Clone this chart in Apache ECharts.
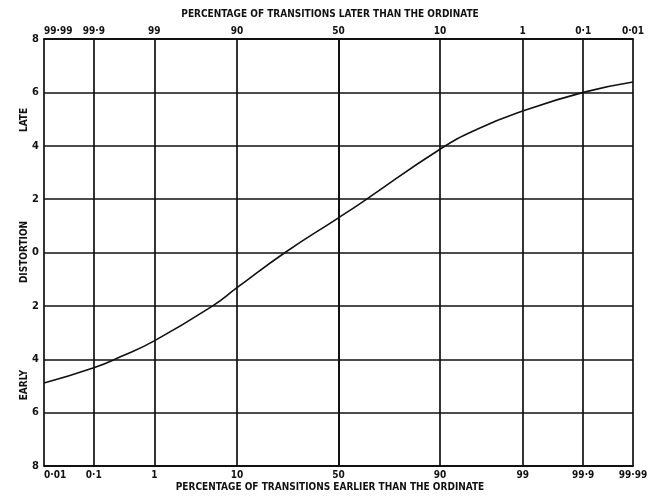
<!DOCTYPE html>
<html>
<head>
<meta charset="utf-8">
<script src="https://cdn.jsdelivr.net/npm/echarts@6/dist/echarts.min.js"></script>
<style>
  html, body { margin: 0; padding: 0; background: #fff; }
  #chart { width: 660px; height: 496px; }
</style>
</head>
<body>
<div id="chart"></div>
<script>
// grid percentages (earlier than the ordinate) and their labels
var gridPercents = [0.01, 0.1, 1, 10, 50, 90, 99, 99.9, 99.99];
var bottomLabels = ['0·01', '0·1', '1', '10', '50', '90', '99', '99·9', '99·99'];
var topLabels = ['99·99', '99·9', '99', '90', '50', '10', '1', '0·1', '0·01'];

// the curve
var curvePercents = [0.01, 0.1, 0.3, 1, 5.6, 10, 25, 50, 62, 90, 96, 99, 99.9, 99.99];
var curveDistortion = [-4.89, -4.32, -3.9, -3.31, -2.0, -1.32, 0, 1.3, 1.9, 3.87, 4.62, 5.3, 6.0, 6.39];

var FONT = '"DejaVu Sans Condensed", "DejaVu Sans", sans-serif';

// inverse of the normal distribution (Acklam), p in (0,1)
function probit(p) {
  var a = [-3.969683028665376e+01, 2.209460984245205e+02, -2.759285104469687e+02, 1.383577518672690e+02, -3.066479806614716e+01, 2.506628277459239e+00];
  var b = [-5.447609879822406e+01, 1.615858368580409e+02, -1.556989798598866e+02, 6.680131188771972e+01, -1.328068155288572e+01];
  var c = [-7.784894002430293e-03, -3.223964580411365e-01, -2.400758277161838e+00, -2.549732539343734e+00, 4.374664141464968e+00, 2.938163982698783e+00];
  var d = [7.784695709041462e-03, 3.224671290700398e-01, 2.445134137142996e+00, 3.754408661907416e+00];
  var q, r;
  if (p < 0.02425) {
    q = Math.sqrt(-2 * Math.log(p));
    return (((((c[0]*q+c[1])*q+c[2])*q+c[3])*q+c[4])*q+c[5]) / ((((d[0]*q+d[1])*q+d[2])*q+d[3])*q+1);
  }
  if (p > 1 - 0.02425) {
    q = Math.sqrt(-2 * Math.log(1 - p));
    return -(((((c[0]*q+c[1])*q+c[2])*q+c[3])*q+c[4])*q+c[5]) / ((((d[0]*q+d[1])*q+d[2])*q+d[3])*q+1);
  }
  q = p - 0.5;
  r = q * q;
  return (((((a[0]*r+a[1])*r+a[2])*r+a[3])*r+a[4])*r+a[5])*q / (((((b[0]*r+b[1])*r+b[2])*r+b[3])*r+b[4])*r+1);
}

var gridZ = gridPercents.map(function (p) { return probit(p / 100); });
var xMin = gridZ[0], xMax = gridZ[gridZ.length - 1];

var curveData = curvePercents.map(function (p, i) {
  return [probit(p / 100), curveDistortion[i]];
});

function labelFor(list) {
  return function (v) {
    var best = 0;
    for (var i = 1; i < gridZ.length; i++) {
      if (Math.abs(gridZ[i] - v) < Math.abs(gridZ[best] - v)) best = i;
    }
    return list[best];
  };
}

var lineStyle = { color: '#111', width: 1.7 };

var xAxisBase = {
  type: 'value',
  min: xMin,
  max: xMax,
  axisLine: { show: true, onZero: false, lineStyle: { color: '#111', width: 2 } },
  axisTick: { show: false, customValues: gridZ },
  splitLine: { show: true, lineStyle: lineStyle },
  axisLabel: {
    customValues: gridZ,
    color: '#111',
    fontFamily: FONT,
    fontWeight: 'bold',
    fontSize: 10,
    margin: 4,
    alignMinLabel: 'left'
  }
};

var chart = echarts.init(document.getElementById('chart'));

var option = {
  backgroundColor: '#fff',
  animation: false,
  grid: { left: 44, right: 27, top: 39, bottom: 30, containLabel: false },
  xAxis: [
    echarts.util.merge({
      position: 'bottom',
      axisLabel: { formatter: labelFor(bottomLabels) }
    }, xAxisBase),
    echarts.util.merge({
      position: 'top',
      splitLine: { show: false },
      axisLabel: { formatter: labelFor(topLabels), margin: 3 }
    }, xAxisBase)
  ],
  yAxis: {
    type: 'value',
    min: -8,
    max: 8,
    interval: 2,
    axisLine: { show: true, lineStyle: { color: '#111', width: 2 } },
    axisTick: { show: false },
    splitLine: { show: true, lineStyle: lineStyle },
    axisLabel: {
      color: '#111',
      fontFamily: FONT,
      fontWeight: 'bold',
      fontSize: 11,
      margin: 5,
      formatter: function (v) { return String(Math.abs(v)); }
    }
  },
  graphic: [
    {
      type: 'text', left: 'center', top: 9,
      style: { text: 'PERCENTAGE OF TRANSITIONS LATER THAN THE ORDINATE', fill: '#111', font: 'bold 10px ' + FONT }
    },
    {
      type: 'text', left: 'center', top: 482,
      style: { text: 'PERCENTAGE OF TRANSITIONS EARLIER THAN THE ORDINATE', fill: '#111', font: 'bold 10px ' + FONT }
    },
    {
      type: 'text', x: 24, y: 120, rotation: Math.PI / 2,
      style: { text: 'LATE', fill: '#111', font: 'bold 10px ' + FONT, align: 'center', verticalAlign: 'middle' }
    },
    {
      type: 'text', x: 24, y: 252, rotation: Math.PI / 2,
      style: { text: 'DISTORTION', fill: '#111', font: 'bold 10px ' + FONT, align: 'center', verticalAlign: 'middle' }
    },
    {
      type: 'text', x: 24, y: 385, rotation: Math.PI / 2,
      style: { text: 'EARLY', fill: '#111', font: 'bold 10px ' + FONT, align: 'center', verticalAlign: 'middle' }
    }
  ],
  series: [{
    type: 'line',
    data: curveData,
    smooth: 0.5,
    showSymbol: false,
    lineStyle: { color: '#111', width: 1.6 }
  }]
};

chart.setOption(option);
</script>
</body>
</html>
